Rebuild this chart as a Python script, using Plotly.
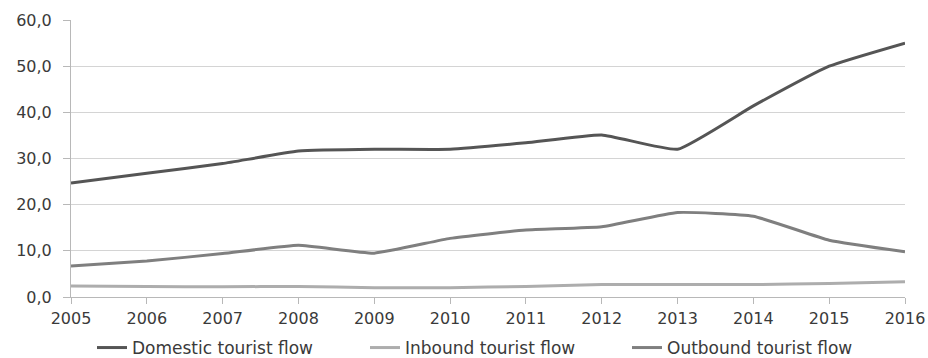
import plotly.graph_objects as go

years = [2005, 2006, 2007, 2008, 2009, 2010, 2011, 2012, 2013, 2014, 2015, 2016]
domestic = [24.7, 26.8, 28.9, 31.6, 32.0, 32.0, 33.4, 35.1, 32.0, 41.4, 50.0, 55.0]
inbound = [2.4, 2.3, 2.2, 2.3, 2.0, 2.0, 2.3, 2.7, 2.7, 2.7, 2.9, 3.3]
outbound = [6.7, 7.8, 9.4, 11.2, 9.5, 12.7, 14.5, 15.2, 18.3, 17.5, 12.3, 9.8]

series = [
    ("Domestic tourist flow", domestic, "#555555", "legend"),
    ("Inbound tourist flow", inbound, "#adadad", "legend2"),
    ("Outbound tourist flow", outbound, "#7f7f7f", "legend3"),
]

fig = go.Figure()
for name, vals, color, leg in series:
    fig.add_trace(go.Scatter(
        x=years, y=vals, name=name, mode="lines", legend=leg,
        line=dict(color=color, width=3, shape="spline", smoothing=0.4),
    ))

font = "DejaVu Sans, Verdana, sans-serif"
text_color = "#3a3a3a"
W, H = 928, 358

legend_common = dict(
    orientation="h", xref="container", yref="container",
    y=(H - 348) / H, yanchor="middle", xanchor="left",
    font=dict(family=font, size=17, color=text_color),
    itemwidth=30, bgcolor="rgba(0,0,0,0)", borderwidth=0,
)

fig.update_layout(
    width=W, height=H,
    margin=dict(l=71, r=23, t=20, b=61, autoexpand=False),
    paper_bgcolor="white", plot_bgcolor="white",
    separators=", ",
    font=dict(family=font, size=16, color=text_color),
    showlegend=True,
    legend=dict(x=92 / W, **legend_common),
    legend2=dict(x=365 / W, **legend_common),
    legend3=dict(x=627 / W, **legend_common),
    xaxis=dict(
        range=[2005, 2016], tickmode="array", tickvals=years,
        ticktext=[str(y) for y in years],
        showgrid=False, showline=True, linecolor="#b8b8b8", linewidth=1,
        ticks="outside", ticklen=6, tickcolor="#b8b8b8", zeroline=False,
        ticklabelstandoff=1, automargin=False,
    ),
    yaxis=dict(
        range=[0, 60], dtick=10, tickformat=".1f",
        showgrid=True, gridcolor="#d4d4d4", gridwidth=1,
        showline=True, linecolor="#b8b8b8", linewidth=1,
        ticks="outside", ticklen=7, tickcolor="#b8b8b8", zeroline=False,
        ticklabelstandoff=8, automargin=False,
    ),
)

fig.write_html("out.html")
